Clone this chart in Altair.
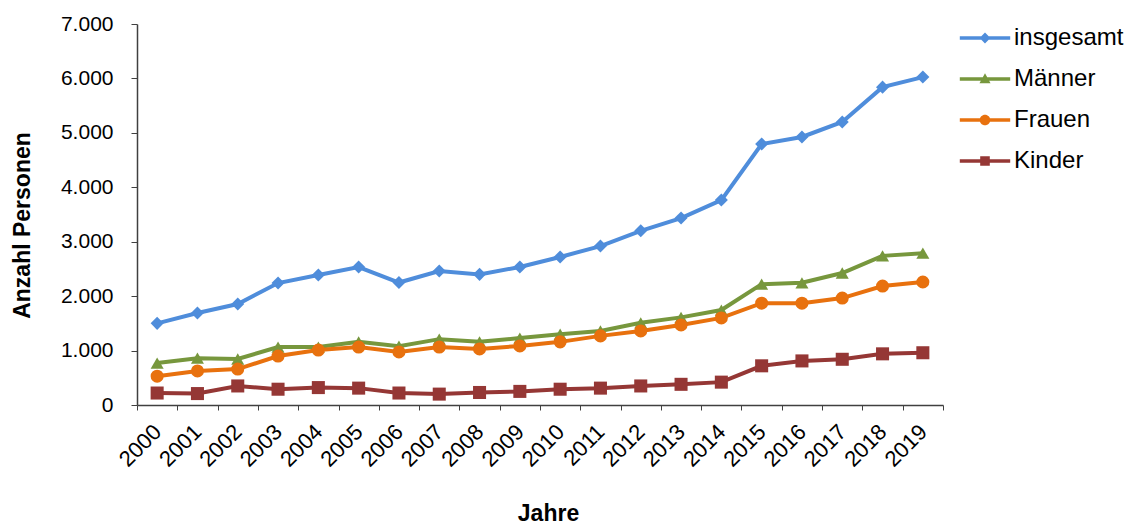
import altair as alt
import pandas as pd

years = [str(y) for y in range(2000, 2020)]
series = ["insgesamt", "Männer", "Frauen", "Kinder"]
insgesamt = [1500, 1690, 1855, 2240, 2390, 2535, 2250, 2460, 2400, 2535,
             2720, 2920, 3200, 3435, 3765, 4795, 4925, 5200, 5840, 6025]
maenner = [770, 860, 845, 1065, 1065, 1160, 1080, 1210, 1160, 1230,
           1300, 1360, 1510, 1610, 1745, 2220, 2245, 2425, 2740, 2790]
frauen = [530, 625, 660, 900, 1010, 1065, 975, 1065, 1030, 1085,
          1160, 1270, 1360, 1470, 1600, 1870, 1870, 1965, 2185, 2260]
kinder = [220, 210, 350, 290, 320, 310, 220, 200, 230, 250,
          290, 310, 350, 380, 420, 720, 810, 840, 940, 960]
y_ticks = [0, 1000, 2000, 3000, 4000, 5000, 6000, 7000]

colors = ["#4f8ddb", "#77973d", "#e8710e", "#953735"]
marker_shapes = ["diamond", "triangle-up", "circle", "square"]
# legend symbols: a line with the marker in its middle (unit-square paths)
bar = "M-2.1,-0.14H2.1V0.14H-2.1Z"
legend_shapes = [
    bar + "M0,-0.45L0.45,0L0,0.45L-0.45,0Z",
    bar + "M0,-0.48L0.46,0.36L-0.46,0.36Z",
    bar + "M-0.44,0A0.44,0.44 0 1,1 0.44,0A0.44,0.44 0 1,1 -0.44,0Z",
    bar + "M-0.4,-0.4H0.4V0.4H-0.4Z",
]

values = {"insgesamt": insgesamt, "Männer": maenner, "Frauen": frauen, "Kinder": kinder}
rows = []
for s in series:
    for yr, v in zip(years, values[s]):
        rows.append({"Jahr": yr, "Serie": s, "Wert": v})
df = pd.DataFrame(rows)

FONT = "Liberation Sans, Arial, sans-serif"
AX = "#404040"

x_enc = alt.X(
    "Jahr:O",
    sort=years,
    scale=alt.Scale(type="band", paddingInner=0, paddingOuter=0),
    axis=alt.Axis(
        title="Jahre",
        labelAngle=315,
        labelAlign="right",
        labelBaseline="middle",
        labelPadding=18,
        labelFontSize=22,
        labelColor="black",
        labelOverlap=False,
        tickSize=5,
        tickBand="extent",
        tickColor=AX,
        domainColor=AX,
        domainWidth=1.5,
        grid=False,
        titleFontSize=23,
        titleFontWeight="bold",
        titleColor="black",
        titleX=411,
        titleY=108,
        titleAlign="center",
        titleBaseline="middle",
    ),
)
y_enc = alt.Y(
    "Wert:Q",
    scale=alt.Scale(domain=[0, 7000], nice=False),
    axis=alt.Axis(
        title="Anzahl Personen",
        values=y_ticks,
        labelExpr="replace(format(datum.value, ','), ',', '.')",
        labelPadding=18,
        labelFontSize=21,
        labelColor="black",
        tickSize=6,
        tickColor=AX,
        domainColor=AX,
        domainWidth=1.5,
        grid=False,
        titleFontSize=23,
        titleFontWeight="bold",
        titleColor="black",
        titleAngle=270,
        titleX=-115,
        titleY=201,
        titleAlign="center",
        titleBaseline="middle",
    ),
)
color_scale = alt.Scale(domain=series, range=colors)

base = alt.Chart(df)

lines = base.mark_line(strokeWidth=4).encode(
    x=x_enc, y=y_enc,
    color=alt.Color("Serie:N", scale=color_scale, legend=None),
    detail="Serie:N",
)
points = base.mark_point(filled=True, opacity=1, size=170).encode(
    x=x_enc, y=y_enc,
    color=alt.Color("Serie:N", scale=color_scale, legend=None),
    shape=alt.Shape("Serie:N", scale=alt.Scale(domain=series, range=marker_shapes), legend=None),
)
legend_spec = alt.Legend(
    title=None,
    orient="none",
    legendX=836,
    legendY=2,
    symbolSize=576,
    symbolStrokeWidth=0,
    labelFontSize=24,
    labelColor="black",
    labelOffset=17,
    rowPadding=17,
    padding=0,
)
legend_layer = base.transform_filter("false").mark_point(filled=True, opacity=1).encode(
    color=alt.Color("Serie:N", scale=color_scale, legend=legend_spec, sort=series),
    shape=alt.Shape("Serie:N", scale=alt.Scale(domain=series, range=legend_shapes),
                    legend=legend_spec, sort=series),
)

chart = (
    alt.layer(lines, points, legend_layer)
    .resolve_scale(shape="independent", color="independent")
    .properties(
        width=806,
        height=381,
        autosize=alt.AutoSizeParams(type="none"),
        padding={"left": 129, "top": 16, "right": 187, "bottom": 120},
        background="white",
    )
    .configure(font=FONT)
    .configure_view(strokeWidth=0)
)

chart.save("out.html", embed_options={"renderer": "svg", "actions": False})
